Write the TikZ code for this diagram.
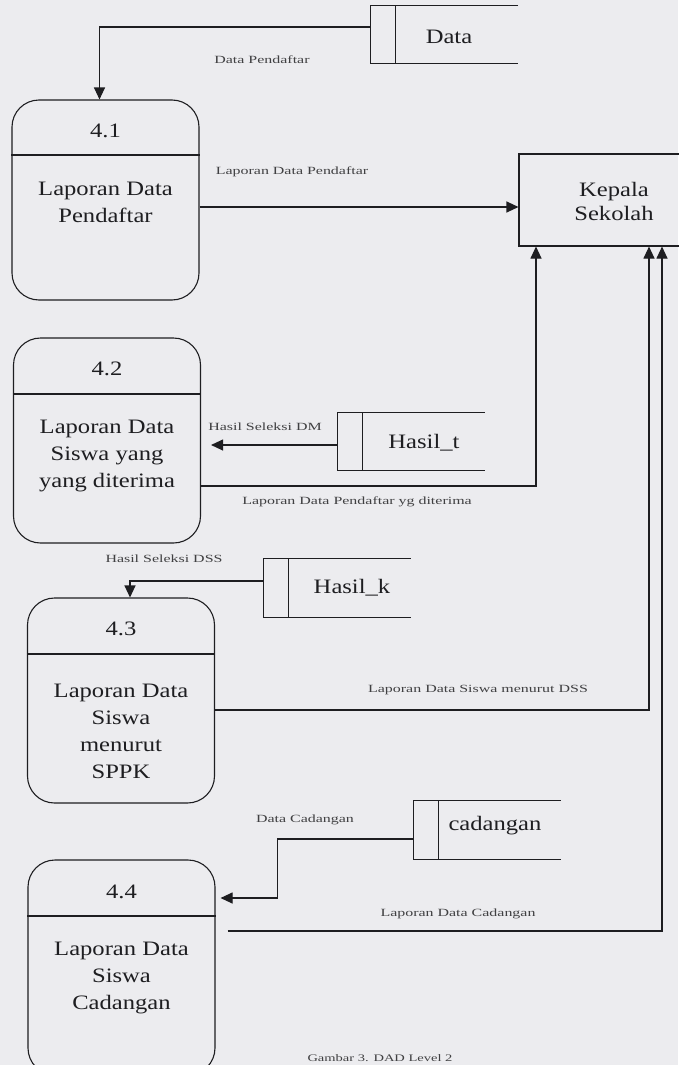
\documentclass[tikz,border=0pt]{standalone}
\usepackage{fontspec}
\setmainfont{Liberation Serif}
\newfontfamily\bigfont[FakeStretch=1.2]{Liberation Serif}
\newfontfamily\lblfont[FakeStretch=1.45]{Liberation Serif}
\usetikzlibrary{arrows.meta,calc}
\definecolor{paper}{RGB}{236,236,239}
\definecolor{ink}{RGB}{30,30,33}
\newcommand\storeframe[1]{%
  \draw[line] (#1.north east) -- (#1.north west) -- (#1.south west) -- (#1.south east);
  \draw[line] ([xshift=25pt]#1.north west) -- ([xshift=25pt]#1.south west);}
\begin{document}
\begin{tikzpicture}[x=1pt,y=-1pt,
  line/.style={draw=ink, line width=1.1pt},
  arr/.style={line, -{Triangle[length=12pt,width=11pt]}},
  proc/.style={draw=ink, line width=1.1pt, rounded corners=27pt, minimum width=187pt, inner sep=0pt},
  store/.style={minimum width=147pt, minimum height=58pt, inner sep=0pt},
  big/.style={font=\bigfont\fontsize{20.5}{27}\selectfont, text=ink, align=center, inner sep=0pt},
  lbl/.style={font=\lblfont\fontsize{11}{13}\selectfont, text=ink!85, inner sep=0pt},
]
\fill[paper] (0,0) rectangle (678,1065);
\useasboundingbox (0,0) rectangle (678,1065);

% external entity
\node[draw=ink, line width=1.1pt, minimum width=190pt, minimum height=92pt, inner sep=0pt] (kep) at (614,200) {};
\node[big] (kept) at (614,201) {Kepala\\[-3pt]Sekolah};

% processes
\node[proc, minimum height=200pt] (p1) at (105.5,200) {};
\draw[line] (p1.west |- 0,155) -- (p1.east |- 0,155);
\node[big] (p1n) at (105.5,131) {4.1};
\node[big] (p1t) at (105.5,202) {Laporan Data\\Pendaftar};

\node[proc, minimum height=205pt] (p2) at (107,440.5) {};
\draw[line] (p2.west |- 0,394) -- (p2.east |- 0,394);
\node[big] (p2n) at (107,369) {4.2};
\node[big] (p2t) at (107,456) {Laporan Data\\Siswa yang\\yang diterima};

\node[proc, minimum height=205pt] (p3) at (121,700.5) {};
\draw[line] (p3.west |- 0,654) -- (p3.east |- 0,654);
\node[big] (p3n) at (121,629) {4.3};
\node[big] (p3t) at (121,731) {Laporan Data\\Siswa\\menurut\\SPPK};

\node[proc, minimum height=215pt] (p4) at (121.5,967.5) {};
\draw[line] (p4.west |- 0,916) -- (p4.east |- 0,916);
\node[big] (p4n) at (121.5,892) {4.4};
\node[big] (p4t) at (121.5,978) {Laporan Data\\Siswa\\Cadangan};

% data stores
\node[store] (s1) at (444.5,34.5) {};
\storeframe{s1}
\node[big] (s1t) at (449,37) {Data};

\node[store] (s2) at (411,441.5) {};
\storeframe{s2}
\node[big] (s2t) at (424,443) {Hasil\_t};

\node[store] (s3) at (337,588) {};
\storeframe{s3}
\node[big] (s3t) at (352,588) {Hasil\_k};

\node[store] (s4) at (487,830) {};
\storeframe{s4}
\node[big] (s4t) at (495,826) {cadangan};

% flows
\draw[arr] ([yshift=7.5pt]s1.west) -| ([xshift=-6pt]p1.north);
\node[lbl] (l1) at (262,60) {Data Pendaftar};

\draw[arr] ([yshift=-7pt]p1.east) -- ([yshift=-7pt]kep.west);
\node[lbl] (l2) at (292,172) {Laporan Data Pendaftar};

\draw[arr, shorten >=10pt] ([yshift=-3.5pt]s2.west) -- ([yshift=-3.5pt]s2.west -| p2.east);
\node[lbl] (l3) at (265,427) {Hasil Seleksi DM};

\draw[arr] ([yshift=-45.5pt]p2.east) -| ([xshift=-78pt]kep.south);
\node[lbl] (l4) at (357,502) {Laporan Data Pendaftar yg diterima};

\draw[arr] ([yshift=7pt]s3.west) -| ([xshift=9pt]p3.north);
\node[lbl] (l5) at (164,559) {Hasil Seleksi DSS};

\draw[arr] ([yshift=-9.5pt]p3.east) -| ([xshift=35pt]kep.south);
\node[lbl] (l6) at (478,690) {Laporan Data Siswa menurut DSS};

\draw[arr, shorten >=5pt] ([yshift=-9pt]s4.west) -- ++(-136,0) |- ([yshift=69.5pt]p4.east);
\node[lbl] (l7) at (305,820) {Data Cadangan};

\draw[arr, shorten <=12pt] ([yshift=36.5pt]p4.east) -| ([xshift=48pt]kep.south);
\node[lbl] (l8) at (458,914) {Laporan Data Cadangan};

\node[lbl, font=\lblfont\fontsize{10}{12}\selectfont] (cap) at (380,1058) {Gambar 3. DAD Level 2};
\end{tikzpicture}
\end{document}
